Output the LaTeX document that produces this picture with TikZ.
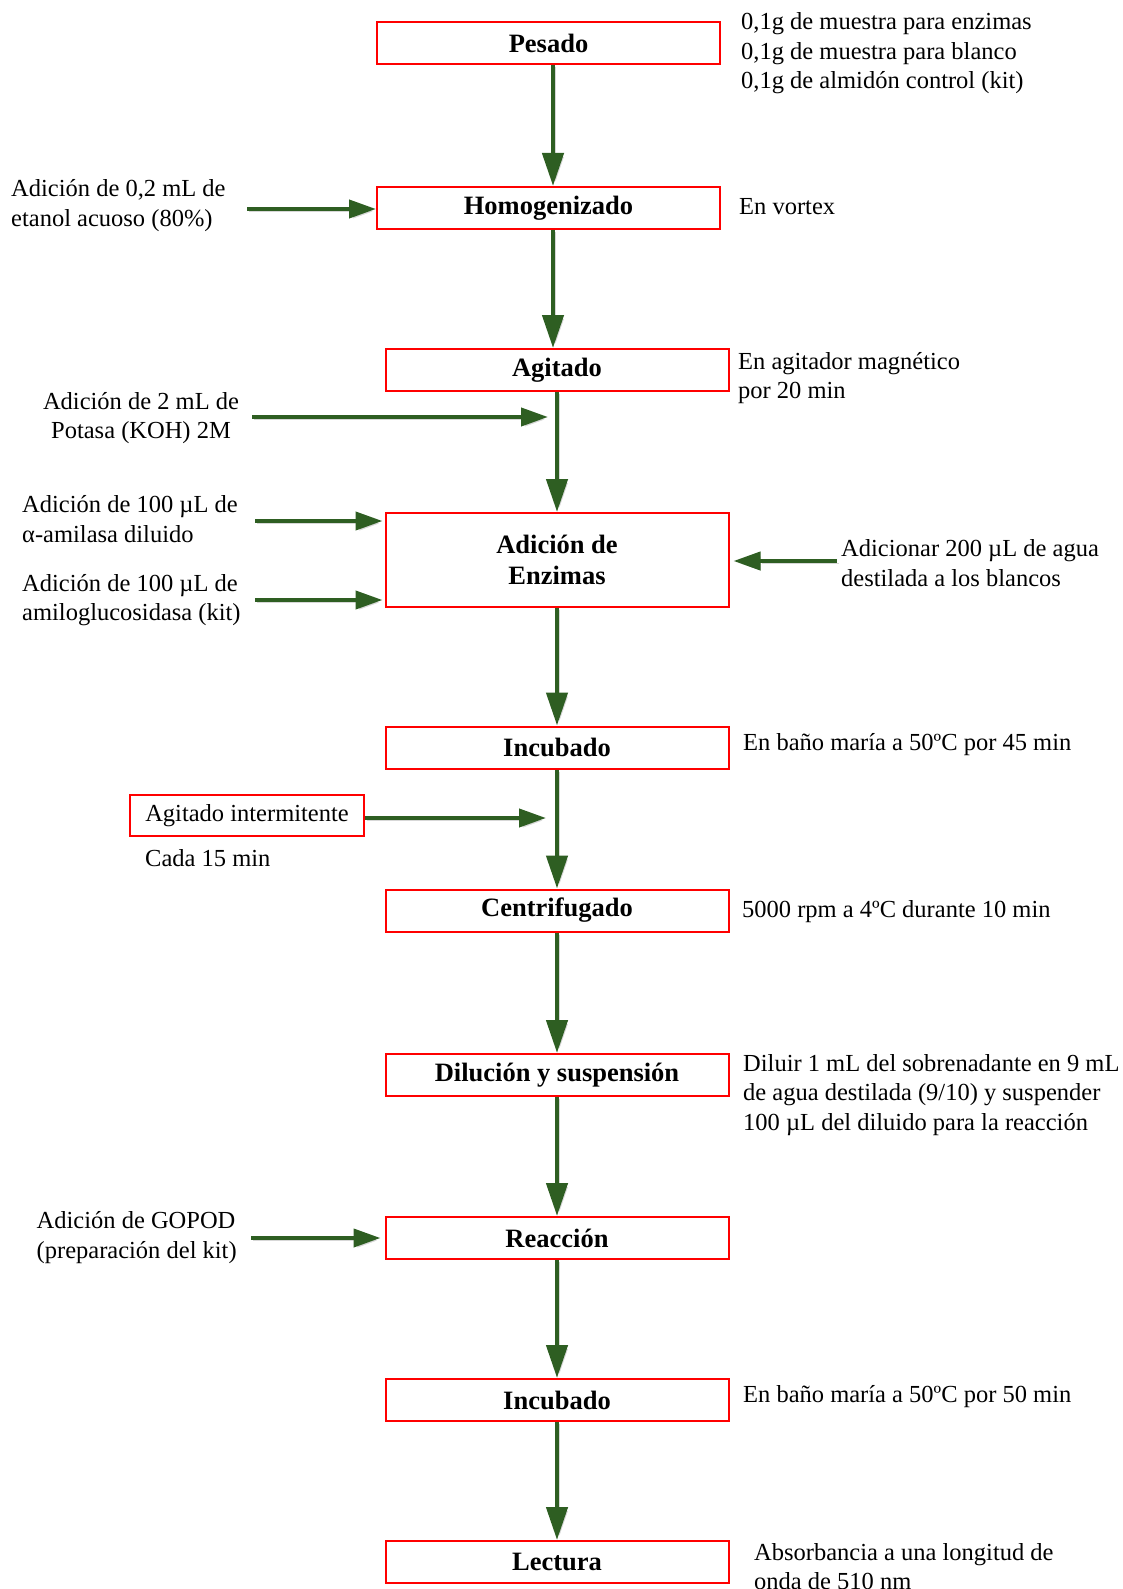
\documentclass[tikz,border=0pt]{standalone}
\usepackage{fontspec}
\setmainfont{Liberation Serif}
\usetikzlibrary{arrows.meta}
\definecolor{flowgreen}{RGB}{46,94,34}
\definecolor{shadowgray}{RGB}{215,215,215}
\newcommand{\notefont}{\fontsize{24.5pt}{29.5pt}\selectfont}
\newcommand{\boxfont}{\fontsize{26.5pt}{31.5pt}\selectfont\bfseries}
\tikzset{
  stepbox/.style={draw=red, line width=2pt, minimum width=343pt, minimum height=42pt,
    inner sep=0pt, font=\boxfont, align=center},
  note/.style={font=\notefont, align=left, inner sep=0pt, anchor=west},
  flow/.style={draw=flowgreen, line width=4.5pt, -{Triangle[length=33pt,width=21pt]},
    preaction={draw=shadowgray, transform canvas={xshift=2.5pt,yshift=-2pt}}},
  feed/.style={draw=flowgreen, line width=4pt, -{Triangle[length=27pt,width=18pt]},
    preaction={draw=shadowgray, transform canvas={xshift=2pt,yshift=-2.5pt}}},
}
\begin{document}
\begin{tikzpicture}[x=1pt,y=-1pt]
\useasboundingbox[fill=white] (0,0) rectangle (1123,1589);

% main sequence of steps
\node[stepbox] (pesado) at (548.5,43) {Pesado};
\node[stepbox] (homog)  at (548.5,208) {Homogenizado};
\node[stepbox] (agit)   at (557,370) {Agitado};
\node[stepbox, minimum height=94pt] (enz) at (557,560) {Adición de\\Enzimas};
\node[stepbox] (incA)   at (557,747.5) {Incubado};
\node[stepbox] (centr)  at (557,910.5) {Centrifugado};
\node[stepbox] (dil)    at (557,1075) {Dilución y suspensión};
\node[stepbox] (reac)   at (557,1238) {Reacción};
\node[stepbox] (incB)   at (557,1400) {Incubado};
\node[stepbox] (lect)   at (557,1562) {Lectura};

% notes to the right of the steps
\node[note] (nPes) at (741,53.5) {0,1g de muestra para enzimas\\0,1g de muestra para blanco\\0,1g de almidón control (kit)};
\node[note] (nHom) at (739,207) {En vortex};
\node[note] (nAgi) at (738,378) {En agitador magnético\\por 20 min};
\node[note] (nBla) at (841,563) {Adicionar 200 µL de agua\\destilada a los blancos};
\node[note] (nIncA) at (743,745) {En baño maría a 50ºC por 45 min};
\node[note] (nCen) at (742,912) {5000 rpm a 4ºC durante 10 min};
\node[note] (nDil) at (743,1095) {Diluir 1 mL del sobrenadante en 9 mL\\de agua destilada (9/10) y suspender\\100 µL del diluido para la reacción};
\node[note] (nIncB) at (743,1397) {En baño maría a 50ºC por 50 min};
\node[note] (nLec) at (754,1566.5) {Absorbancia a una longitud de\\onda de 510 nm};

% additions on the left
\node[note] (nEta) at (11,205.5) {Adición de 0,2 mL de\\etanol acuoso (80\%)};
\node[note, align=center, anchor=center] (nKoh) at (141,418) {Adición de 2 mL de\\Potasa (KOH) 2M};
\node[note] (nAmi) at (22,519) {Adición de 100 µL de\\α-amilasa diluido};
\node[note] (nGlu) at (22,600) {Adición de 100 µL de\\amiloglucosidasa (kit)};
\node[draw=red, line width=1.2pt, font=\notefont, minimum width=234pt, minimum height=41pt,
  inner sep=0pt] (agInt) at (247,815.5) {Agitado intermitente};
\node[note] (nCada) at (145,858) {Cada 15 min};
\node[note] (nGop) at (36.5,1237.5) {Adición de GOPOD\\(preparación del kit)};

% free ends of the side connectors
\coordinate (etaSrc) at (247,209);
\coordinate (kohSrc) at (252,417);
\coordinate (kohTip) at (548,417);
\coordinate (amiSrc) at (255,521);
\coordinate (gluSrc) at (255,600);
\coordinate (intTip) at (546,818);
\coordinate (gopSrc) at (251,1238);

% main flow arrows
\draw[flow] ([xshift=4.5pt]pesado.south) -- ([xshift=4.5pt]homog.north);
\draw[flow] ([xshift=4.5pt]homog.south) -- ([xshift=4.5pt]homog.south |- agit.north);
\draw[flow] (agit.south) -- (enz.north);
\draw[flow] (enz.south) -- (incA.north);
\draw[flow] (incA.south) -- (centr.north);
\draw[flow] (centr.south) -- (dil.north);
\draw[flow] (dil.south) -- (reac.north);
\draw[flow] (reac.south) -- (incB.north);
\draw[flow] (incB.south) -- (lect.north);

% side arrows
\draw[feed] (etaSrc) -- (homog.west |- etaSrc);
\draw[feed] (kohSrc) -- (kohTip);
\draw[feed] (amiSrc) -- ([xshift=-2pt]enz.west |- amiSrc);
\draw[feed] (gluSrc) -- ([xshift=-2pt]enz.west |- gluSrc);
\draw[feed] ([xshift=-4pt]nBla.west |- 0,561) -- ([xshift=4pt]enz.east |- 0,561);
\draw[feed] (agInt.east |- intTip) -- (intTip);
\draw[feed] (gopSrc) -- ([xshift=-4pt]reac.west);
\end{tikzpicture}
\end{document}
